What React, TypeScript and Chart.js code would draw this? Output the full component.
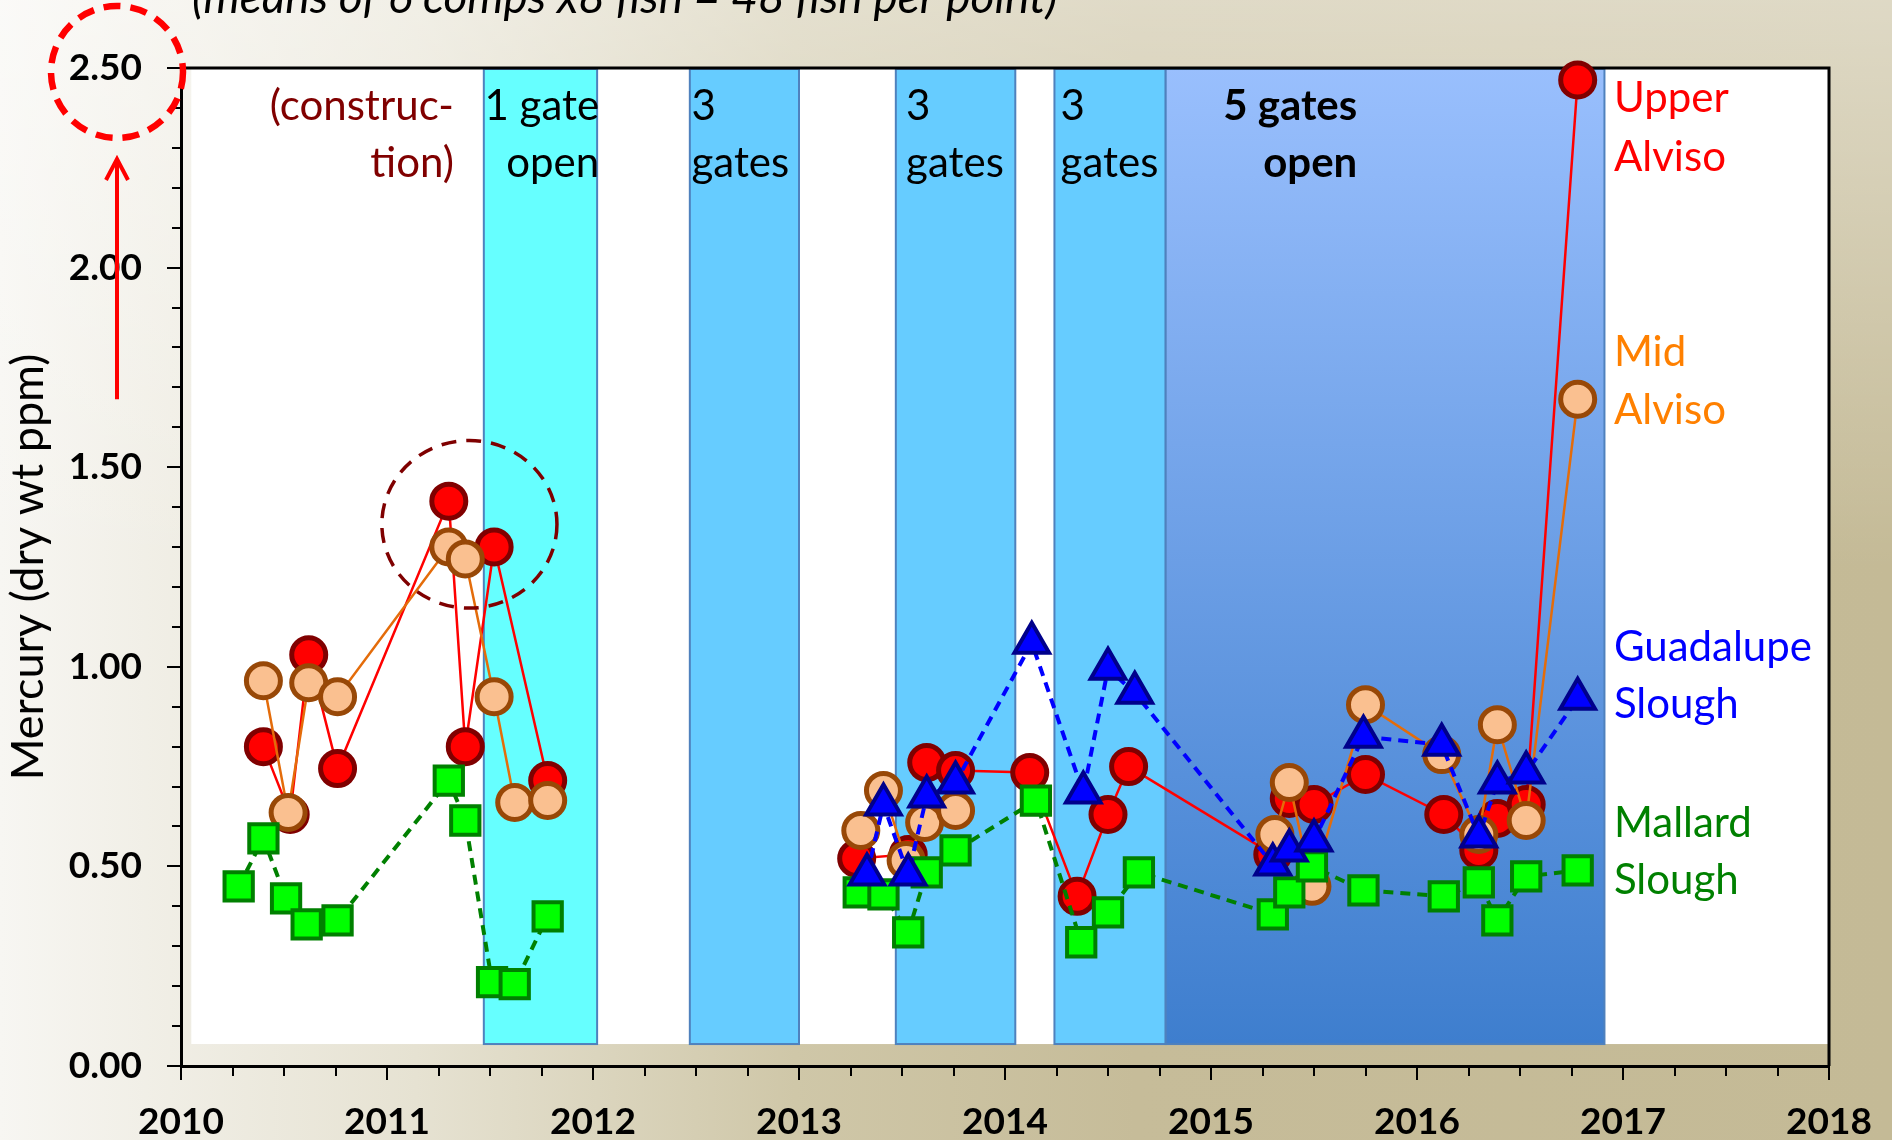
import React, { useEffect, useRef } from 'react';
import { Chart, registerables } from 'chart.js';

Chart.register(...registerables);

const FONT = 'Lato, "Open Sans", "DejaVu Sans", sans-serif';

// ---------------- data (decimal year, mercury ppm dry wt) ----------------
const upperDates = [2010.40, 2010.53, 2010.62, 2010.76, 2011.30, 2011.38, 2011.52, 2011.78, 2012.50, 2013.28, 2013.53, 2013.62, 2013.76, 2014.12, 2014.35, 2014.50, 2014.60, 2015.30, 2015.38, 2015.50, 2015.75, 2016.13, 2016.30, 2016.39, 2016.53, 2016.78];
const upperValues = [0.80, 0.63, 1.03, 0.745, 1.415, 0.80, 1.30, 0.715, null, 0.52, 0.53, 0.76, 0.74, 0.735, 0.425, 0.63, 0.75, 0.53, 0.67, 0.655, 0.73, 0.63, 0.54, 0.62, 0.655, 2.47];

const midDates = [2010.40, 2010.52, 2010.62, 2010.76, 2011.30, 2011.38, 2011.52, 2011.62, 2011.78, 2012.50, 2013.30, 2013.41, 2013.52, 2013.61, 2013.76, 2014.50, 2015.31, 2015.38, 2015.49, 2015.75, 2016.12, 2016.30, 2016.39, 2016.53, 2016.78];
const midValues = [0.965, 0.635, 0.96, 0.925, 1.30, 1.27, 0.925, 0.66, 0.665, null, 0.59, 0.69, 0.515, 0.61, 0.64, null, 0.58, 0.71, 0.45, 0.905, 0.78, 0.58, 0.855, 0.615, 1.67];

const guadDates = [2013.33, 2013.41, 2013.53, 2013.62, 2013.76, 2014.13, 2014.38, 2014.50, 2014.63, 2015.30, 2015.38, 2015.50, 2015.74, 2016.12, 2016.30, 2016.39, 2016.53, 2016.78];
const guadValues = [0.48, 0.655, 0.48, 0.675, 0.71, 1.06, 0.685, 0.995, 0.935, 0.505, 0.54, 0.565, 0.825, 0.805, 0.575, 0.71, 0.735, 0.92];

const mallardDates = [2010.28, 2010.40, 2010.51, 2010.61, 2010.76, 2011.30, 2011.38, 2011.51, 2011.62, 2011.78, 2012.50, 2013.29, 2013.41, 2013.53, 2013.62, 2013.76, 2014.15, 2014.37, 2014.50, 2014.65, 2015.30, 2015.38, 2015.49, 2015.74, 2016.13, 2016.30, 2016.39, 2016.53, 2016.78];
const mallardValues = [0.45, 0.57, 0.42, 0.355, 0.365, 0.715, 0.615, 0.21, 0.205, 0.375, null, 0.435, 0.43, 0.335, 0.485, 0.54, 0.665, 0.31, 0.385, 0.485, 0.38, 0.435, 0.50, 0.44, 0.425, 0.46, 0.365, 0.475, 0.49];

// gate-opening periods (decimal years)
const bandStarts = [2011.47, 2012.47, 2013.47, 2014.24, 2014.78];
const bandEnds = [2012.02, 2013.00, 2014.05, 2014.78, 2016.91];

// axis range
const xMin = 2010;
const xMax = 2018;
const yMin = 0;
const yMax = 2.5;

// texts
const topNote = '(means of 6 comps x8 fish = 48 fish per point)';
const yTitle = 'Mercury (dry wt ppm)';
const bandTexts = [
  ['(construc-', 'tion)'],
  ['1 gate', 'open'],
  ['3', 'gates'],
  ['3', 'gates'],
  ['3', 'gates'],
  ['5 gates', 'open'],
];
const seriesTexts = [
  ['Upper', 'Alviso'],
  ['Mid', 'Alviso'],
  ['Guadalupe', 'Slough'],
  ['Mallard', 'Slough'],
];

// ---------------- layout / style config ----------------
const bandTextLayout = [
  { x: 2011.325, align: 'right', color: '#800000', bold: false },
  { x: 2012.03, align: 'right', color: '#000000', bold: false },
  { x: 2012.478, align: 'left', color: '#000000', bold: false },
  { x: 2013.52, align: 'left', color: '#000000', bold: false },
  { x: 2014.27, align: 'left', color: '#000000', bold: false },
  { x: 2015.71, align: 'right', color: '#000000', bold: true },
];
const bandTextBaselines = [2.37, 2.228];
const seriesTextLayout = [
  { y: [2.389, 2.243], color: '#FF0000' },
  { y: [1.753, 1.608], color: '#FF8000' },
  { y: [1.015, 0.872], color: '#0000FF' },
  { y: [0.573, 0.43], color: '#008000' },
];
const seriesTextX = 2016.956;

const pts = (xs: number[], ys: (number | null)[]) => xs.map((x, i) => ({ x, y: ys[i] }));

const decor = {
  id: 'decor',
  beforeDatasetsDraw(chart: any) {
    const { ctx, chartArea: ca, scales } = chart;
    const xs = scales.x;
    const ys = scales.y;
    ctx.save();
    // white plot panel
    const wl = xs.getPixelForValue(2010.05);
    const wb = ys.getPixelForValue(0.055);
    ctx.fillStyle = '#FFFFFF';
    ctx.fillRect(wl, ca.top, ca.right - wl, wb - ca.top);
    // bands
    for (let i = 0; i < bandStarts.length; i++) {
      const l = xs.getPixelForValue(bandStarts[i]);
      const r = xs.getPixelForValue(bandEnds[i]);
      let fill: any;
      if (i === 0) fill = '#66FFFF';
      else if (i === bandStarts.length - 1) {
        const g = ctx.createLinearGradient(0, ca.top, 0, wb);
        g.addColorStop(0, '#99BFFD');
        g.addColorStop(1, '#3E7ECE');
        fill = g;
      } else fill = '#66CCFF';
      ctx.fillStyle = fill;
      ctx.fillRect(l, ca.top + 1, r - l, wb - ca.top - 1);
      ctx.strokeStyle = '#4F81BD';
      ctx.lineWidth = 2;
      ctx.strokeRect(l, ca.top + 1, r - l, wb - ca.top - 1);
    }
    // frame (top + right)
    ctx.strokeStyle = '#000';
    ctx.lineWidth = 3;
    ctx.beginPath();
    ctx.moveTo(ca.left, ca.top);
    ctx.lineTo(ca.right, ca.top);
    ctx.lineTo(ca.right, ca.bottom);
    ctx.stroke();
    // minor ticks
    ctx.lineWidth = 2;
    ctx.beginPath();
    for (let k = 1; k < 25; k++) {
      if (k % 5 === 0) continue;
      const py = Math.round(ys.getPixelForValue(k / 10));
      ctx.moveTo(ca.left - 9, py);
      ctx.lineTo(ca.left, py);
    }
    for (let k = 1; k < 32; k++) {
      if (k % 4 === 0) continue;
      const px = Math.round(xs.getPixelForValue(xMin + k / 4));
      ctx.moveTo(px, ca.bottom);
      ctx.lineTo(px, ca.bottom + 10);
    }
    ctx.stroke();
    // band texts
    ctx.textBaseline = 'alphabetic';
    for (let i = 0; i < bandTexts.length; i++) {
      const cfg = bandTextLayout[i];
      ctx.font = `${cfg.bold ? 'bold ' : ''}42px ${FONT}`;
      ctx.fillStyle = cfg.color;
      ctx.textAlign = cfg.align;
      bandTexts[i].forEach((t, j) => {
        ctx.fillText(t, xs.getPixelForValue(cfg.x), ys.getPixelForValue(bandTextBaselines[j]));
      });
    }
    ctx.restore();
  },
  afterDatasetsDraw(chart: any) {
    const { ctx, chartArea: ca, scales } = chart;
    const xs = scales.x;
    const ys = scales.y;
    ctx.save();
    // construction circle
    const cx = xs.getPixelForValue(2011.40);
    const cy = ys.getPixelForValue(1.357);
    const rx = xs.getPixelForValue(2011.40 + 0.425) - cx;
    const ry = cy - ys.getPixelForValue(1.357 + 0.21);
    ctx.setLineDash([15, 10]);
    ctx.strokeStyle = '#7F0000';
    ctx.lineWidth = 3.5;
    ctx.beginPath();
    ctx.ellipse(cx, cy, rx, ry, 0, 0, Math.PI * 2);
    ctx.stroke();
    // red dashed circle around the 2.50 tick label
    const lx = ca.left - 64;
    const ly = ys.getPixelForValue(yMax) + 4;
    ctx.setLineDash([17, 10]);
    ctx.strokeStyle = '#FF0000';
    ctx.lineWidth = 6.5;
    ctx.beginPath();
    ctx.arc(lx, ly, 66, 0, Math.PI * 2);
    ctx.stroke();
    // red arrow
    ctx.setLineDash([]);
    ctx.lineWidth = 4;
    const ay0 = ys.getPixelForValue(1.67);
    const ay1 = ys.getPixelForValue(2.272);
    ctx.beginPath();
    ctx.moveTo(lx, ay0);
    ctx.lineTo(lx, ay1 + 2);
    ctx.moveTo(lx - 11, ay1 + 21);
    ctx.lineTo(lx, ay1);
    ctx.lineTo(lx + 11, ay1 + 21);
    ctx.stroke();
    // top note
    ctx.font = `italic 46px ${FONT}`;
    ctx.fillStyle = '#000';
    ctx.textAlign = 'left';
    ctx.textBaseline = 'alphabetic';
    ctx.fillText(topNote, ca.left + 11, ca.top - 55);
    // series labels
    ctx.font = `42px ${FONT}`;
    seriesTexts.forEach((lines, i) => {
      ctx.fillStyle = seriesTextLayout[i].color;
      lines.forEach((t, j) => {
        ctx.fillText(t, xs.getPixelForValue(seriesTextX), ys.getPixelForValue(seriesTextLayout[i].y[j]));
      });
    });
    ctx.restore();
  },
};

export default function App() {
  const ref = useRef<HTMLCanvasElement>(null);
  useEffect(() => {
    document.body.style.margin = '0';
    const canvas = ref.current as HTMLCanvasElement;
    const tickFont = { family: FONT, size: 37, weight: 'bold' as const };
    const chart = new Chart(canvas, {
      type: 'line',
      data: {
        datasets: [
          {
            label: 'Guadalupe Slough',
            data: pts(guadDates, guadValues),
            borderColor: '#0000FF',
            borderWidth: 4,
            borderDash: [10, 7],
            pointStyle: 'triangle',
            pointRadius: 20,
            pointBackgroundColor: '#0000FF',
            pointBorderColor: '#00008B',
            pointBorderWidth: 4,
            order: 0,
            clip: false,
          },
          {
            label: 'Mallard Slough',
            data: pts(mallardDates, mallardValues),
            borderColor: '#008000',
            borderWidth: 4,
            borderDash: [10, 7],
            pointStyle: 'rect',
            pointRadius: 20,
            pointBackgroundColor: '#00FF00',
            pointBorderColor: '#008000',
            pointBorderWidth: 4,
            order: 1,
            clip: false,
          },
          {
            label: 'Mid Alviso',
            data: pts(midDates, midValues),
            borderColor: '#E46C0A',
            borderWidth: 2.5,
            pointStyle: 'circle',
            pointRadius: 17,
            pointBackgroundColor: '#FAC090',
            pointBorderColor: '#984807',
            pointBorderWidth: 5,
            order: 2,
            clip: false,
          },
          {
            label: 'Upper Alviso',
            data: pts(upperDates, upperValues),
            borderColor: '#FF0000',
            borderWidth: 2.5,
            pointStyle: 'circle',
            pointRadius: 17,
            pointBackgroundColor: '#FF0000',
            pointBorderColor: '#800000',
            pointBorderWidth: 5,
            order: 3,
            clip: false,
          },
        ] as any,
      },
      options: {
        animation: false,
        responsive: false,
        devicePixelRatio: 1,
        events: [],
        spanGaps: false,
        layout: { padding: { top: 68, right: 63, left: 0, bottom: 0 } },
        plugins: { legend: { display: false }, tooltip: { enabled: false }, title: { display: false } },
        elements: { line: { tension: 0 } },
        scales: {
          x: {
            type: 'linear',
            min: xMin,
            max: xMax,
            ticks: {
              stepSize: 1,
              autoSkip: false,
              maxRotation: 0,
              color: '#000',
              font: tickFont,
              padding: 20,
              callback: (v: any) => String(v),
            },
            grid: { drawOnChartArea: false, drawTicks: true, tickLength: 14, lineWidth: 2, tickColor: '#000' },
            border: { display: true, color: '#000', width: 3 },
            afterFit: (s: any) => { s.height = 74; },
          },
          y: {
            type: 'linear',
            min: yMin,
            max: yMax,
            ticks: {
              stepSize: 0.5,
              color: '#000',
              font: tickFont,
              padding: 25,
              callback: (v: any) => Number(v).toFixed(2),
            },
            grid: { drawOnChartArea: false, drawTicks: true, tickLength: 14, lineWidth: 2, tickColor: '#000' },
            border: { display: true, color: '#000', width: 3 },
            title: { display: true, text: yTitle, color: '#000', font: { family: FONT, size: 45 }, padding: { top: 1, bottom: 0 } },
            afterFit: (s: any) => { s.width = 181; },
          },
        },
      } as any,
      plugins: [decor as any],
    });
    return () => chart.destroy();
  }, []);
  return (
    <div
      style={{
        position: 'absolute',
        left: 0,
        top: 0,
        width: 1892,
        height: 1140,
        background:
          'linear-gradient(to bottom, rgba(255,255,255,0.45) 0%, rgba(255,255,255,0) 50%), linear-gradient(to right, #F7F6F2 0%, #E6E2D2 22%, #CFC7A8 42%, #C6BC99 60%, #C4BA96 100%)',
      }}
    >
      <canvas ref={ref} width={1892} height={1140} style={{ display: 'block', width: 1892, height: 1140 }} />
    </div>
  );
}
